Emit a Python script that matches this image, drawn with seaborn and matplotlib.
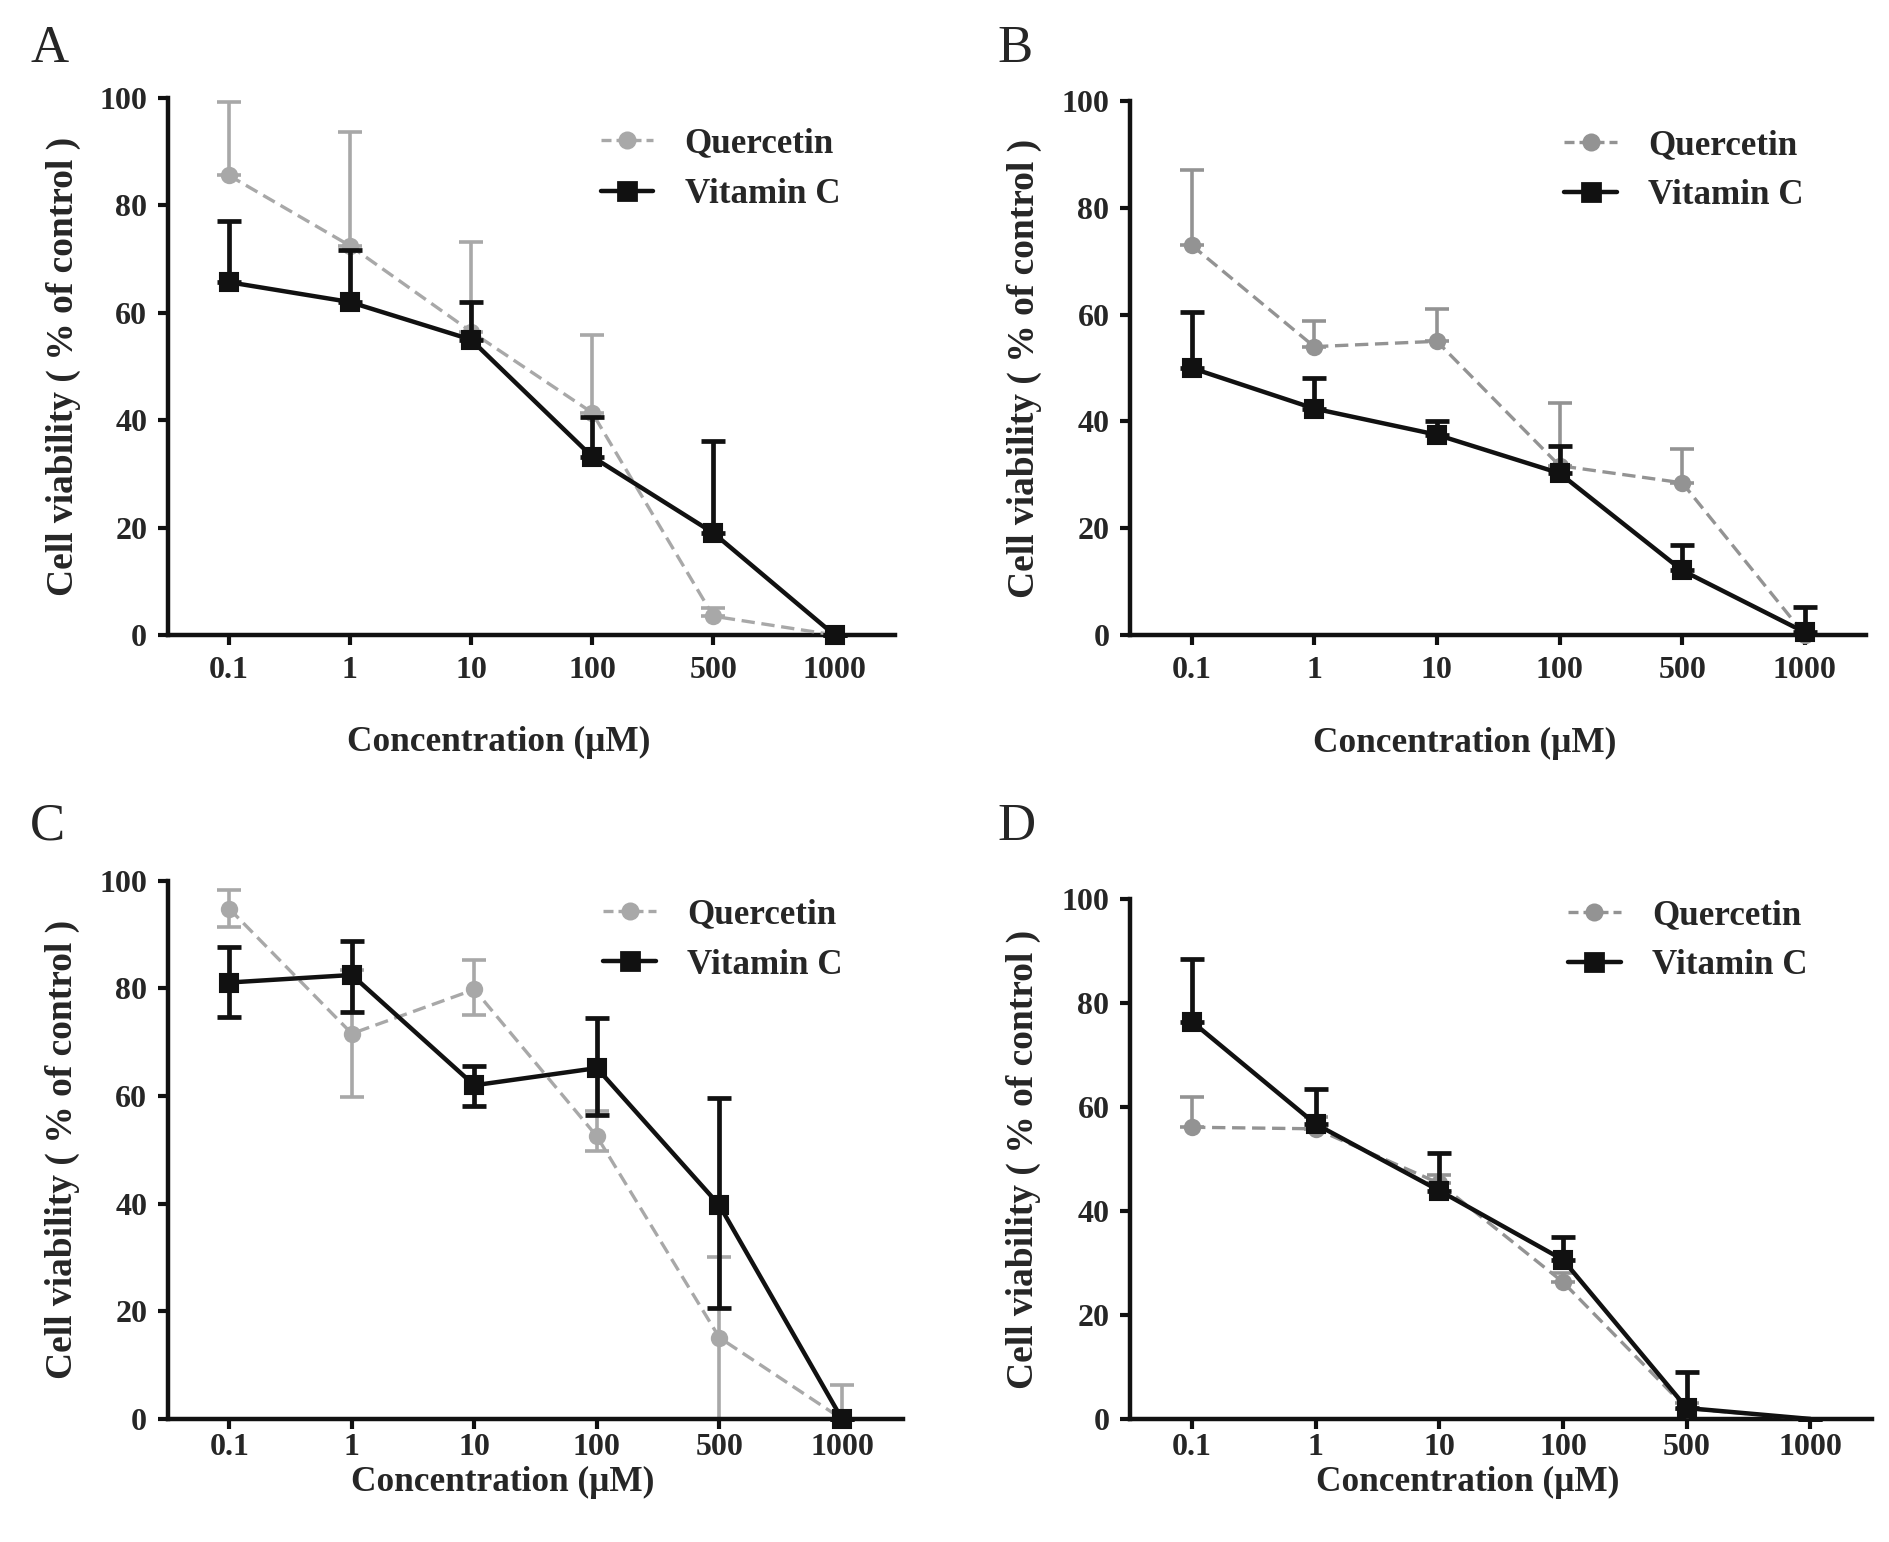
import numpy as np
import pandas as pd
import seaborn as sns
import matplotlib.pyplot as plt
from matplotlib.lines import Line2D

# x categories
conc = ["0.1", "1", "10", "100", "500", "1000"]

# Panel A
a_quer = [85.6, 72.5, 56.5, 41.4, 3.5, 0.0]
a_quer_hi = [99.3, 93.6, 73.2, 55.8, 5.0, 0.0]
a_quer_lo = [85.6, 72.5, 56.5, 41.4, 3.5, 0.0]
a_vitc = [65.7, 62.0, 55.0, 33.2, 19.0, 0.0]
a_vitc_hi = [77.1, 71.6, 62.0, 40.5, 36.2, 0.0]
a_vitc_lo = [65.7, 62.0, 55.0, 33.2, 19.0, 0.0]

# Panel B
b_quer = [73.0, 54.0, 55.0, 31.7, 28.5, 0.0]
b_quer_hi = [87.0, 58.8, 61.0, 43.4, 34.8, 0.0]
b_quer_lo = [73.0, 54.0, 55.0, 31.7, 28.5, 0.0]
b_vitc = [50.0, 42.4, 37.5, 30.3, 12.1, 0.5]
b_vitc_hi = [60.5, 48.2, 40.0, 35.3, 16.8, 5.3]
b_vitc_lo = [50.0, 42.4, 37.5, 30.3, 12.1, 0.5]

# Panel C
c_quer = [94.8, 71.6, 79.8, 52.5, 15.1, 0.0]
c_quer_hi = [98.2, 83.4, 85.2, 57.2, 30.1, 6.3]
c_quer_lo = [91.4, 59.8, 75.0, 49.7, 0.0, 0.0]
c_vitc = [81.1, 82.5, 62.0, 65.2, 39.7, 0.0]
c_vitc_hi = [87.7, 88.9, 65.5, 74.5, 59.7, 0.0]
c_vitc_lo = [74.6, 75.7, 58.1, 56.4, 20.6, 0.0]

# Panel D
d_quer = [56.1, 55.8, 45.3, 26.3, 2.0, 0.0]
d_quer_hi = [62.0, 58.0, 47.0, 28.0, 3.0, 0.0]
d_quer_lo = [56.1, 55.8, 45.3, 26.3, 2.0, 0.0]
d_vitc = [76.4, 56.7, 43.9, 30.6, 2.1, 0.0]
d_vitc_hi = [88.4, 63.4, 51.2, 34.9, 9.0, 0.0]
d_vitc_lo = [76.4, 56.7, 43.9, 30.6, 2.1, 0.0]

panels = [
    ("A", a_quer, a_quer_lo, a_quer_hi, a_vitc, a_vitc_lo, a_vitc_hi),
    ("B", b_quer, b_quer_lo, b_quer_hi, b_vitc, b_vitc_lo, b_vitc_hi),
    ("C", c_quer, c_quer_lo, c_quer_hi, c_vitc, c_vitc_lo, c_vitc_hi),
    ("D", d_quer, d_quer_lo, d_quer_hi, d_vitc, d_vitc_lo, d_vitc_hi),
]

sns.set_style("ticks")
plt.rcParams['font.family'] = ['Liberation Serif', 'DejaVu Serif']
plt.rcParams['font.weight'] = 'bold'

fig = plt.figure(figsize=(9.45, 7.71), dpi=200)

rects = [
    [0.0889, 0.5882, 0.3847, 0.3483],
    [0.598, 0.5882, 0.3894, 0.3463],
    [0.0889, 0.0798, 0.389, 0.349],
    [0.598, 0.0798, 0.3926, 0.3372],
]
letter_pos = [(0.016, 0.968), (0.528, 0.968), (0.016, 0.464), (0.528, 0.464)]
legend_anchor = [(0.595, 0.945), (0.59, 0.948), (0.592, 0.968), (0.59, 1.0)]
xlabel_y = [-0.17, -0.172, -0.088, -0.091]
xtick_pad = [4, 4, 1.5, 1.5]
quer_color = ["#a8a8a8", "#939393", "#a8a8a8", "#939393"]
vitc_color = "#111111"

idx = np.arange(len(conc))

for i, (letter, q, q_lo, q_hi, v, v_lo, v_hi) in enumerate(panels):
    ax = fig.add_axes(rects[i])
    gc = quer_color[i]

    df_q = pd.DataFrame({"pos": idx, "val": q})
    df_v = pd.DataFrame({"pos": idx, "val": v})

    # D has no markers drawn at 1000
    mev = list(range(5)) if letter == "D" else None

    q_arr, v_arr = np.array(q), np.array(v)
    ax.errorbar(idx, q_arr, yerr=[q_arr - np.array(q_lo), np.array(q_hi) - q_arr],
                fmt="none", ecolor=gc, elinewidth=1.3, capsize=4.2, capthick=1.3,
                clip_on=False, zorder=2)
    sns.lineplot(data=df_q, x="pos", y="val", ax=ax, color=gc, linewidth=1.2,
                 linestyle=(0, (4, 2)), marker="o", markersize=5.5,
                 markeredgecolor=gc, markevery=mev, clip_on=False, zorder=3)

    ax.errorbar(idx, v_arr, yerr=[v_arr - np.array(v_lo), np.array(v_hi) - v_arr],
                fmt="none", ecolor=vitc_color, elinewidth=1.7, capsize=4.2, capthick=1.7,
                clip_on=False, zorder=4)
    sns.lineplot(data=df_v, x="pos", y="val", ax=ax, color=vitc_color, linewidth=1.6,
                 marker="s", markersize=6.5, markeredgecolor=vitc_color,
                 markevery=mev, clip_on=False, zorder=5)

    ax.set_xlim(-0.5, 5.5)
    ax.set_ylim(0, 100)
    ax.set_xticks(idx)
    ax.set_xticklabels(conc)
    ax.set_yticks(np.arange(0, 101, 20))
    sns.despine(ax=ax)
    for s in ["left", "bottom"]:
        ax.spines[s].set_linewidth(1.6)
        ax.spines[s].set_color("#111111")
    ax.tick_params(labelsize=11.5, width=1.5, length=3.5, color="#111111", pad=4)
    ax.tick_params(axis="x", pad=xtick_pad[i])
    for lab in ax.get_xticklabels() + ax.get_yticklabels():
        lab.set_fontweight("bold")

    ax.set_xlabel("Concentration (\u03bcM)", fontsize=12.7, fontweight="bold")
    ax.set_ylabel("Cell viability ( % of control )", fontsize=13.5, fontweight="bold")
    ax.xaxis.set_label_coords(0.455, xlabel_y[i])
    ax.yaxis.set_label_coords(-0.12, 0.5)

    handles = [
        Line2D([], [], color=gc, linestyle=(0, (3, 1.5)), linewidth=1.2,
               marker="o", markersize=5.5),
        Line2D([], [], color=vitc_color, linewidth=1.6, marker="s", markersize=6.5),
    ]
    ax.legend(handles, ["Quercetin", "Vitamin C"], loc="upper left",
              bbox_to_anchor=legend_anchor[i], frameon=False, borderpad=0,
              borderaxespad=0, handlelength=1.5, handletextpad=0.9,
              labelspacing=0.5, prop={"size": 12.6, "weight": "bold"})

    fig.text(letter_pos[i][0], letter_pos[i][1], letter, fontsize=19,
             fontweight="normal", ha="left", va="center")

fig.savefig("out.png", dpi=200, facecolor="white")
